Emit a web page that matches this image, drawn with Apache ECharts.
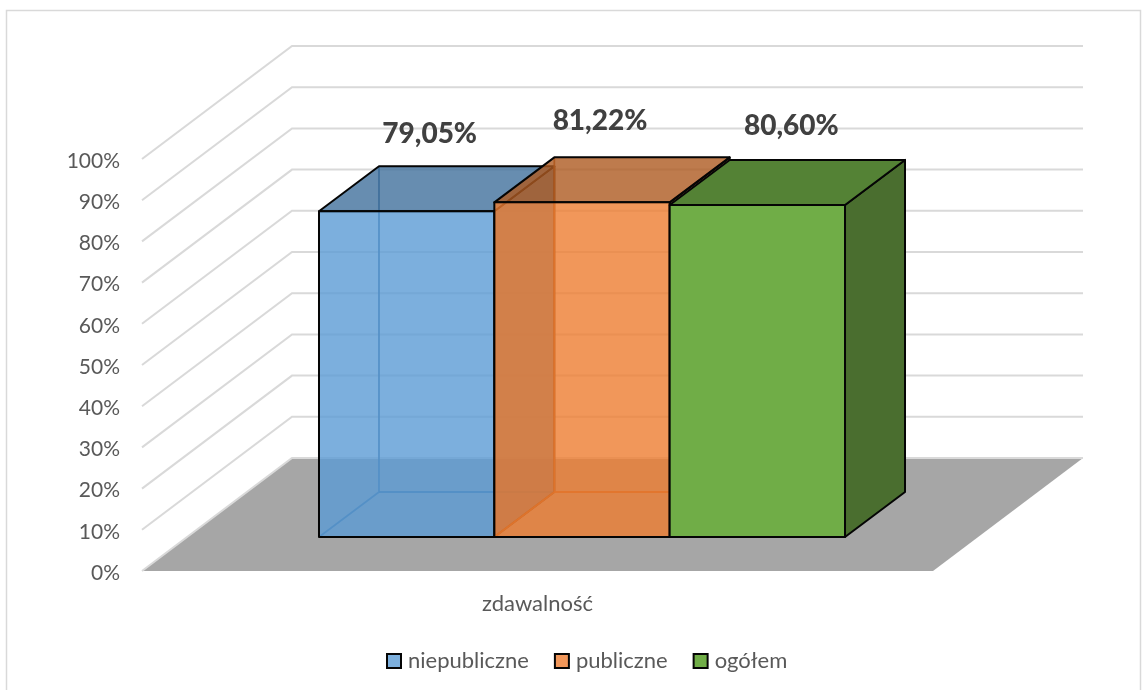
<!DOCTYPE html>
<html><head><meta charset="utf-8">
<style>html,body{margin:0;padding:0;background:#fff}#c{width:1143px;height:690px}</style>
<script src="https://cdn.jsdelivr.net/npm/echarts@6/dist/echarts.min.js"></script>
</head><body><div id="c"></div>
<script>
const categories = ['zdawalność'];
const seriesNames = ['niepubliczne', 'publiczne', 'ogółem'];
const niepubliczne = [79.05];
const publiczne = [81.22];
const ogolem = [80.60];
const axisTicks = [0, 10, 20, 30, 40, 50, 60, 70, 80, 90, 100];

const FONT = 'Lato';
const WALL = [150, -113];         // depth of the whole floor
const BAR_START = [44.5, -34];    // bar front plane relative to the axis plane
const BAR_DEPTH = [60, -45];
const GROUP_SHARE = 0.665;        // bars' share of the category band
const LABEL_SHIFT = [[23, -77], [18, -81.5], [34, -79]];

const looks = [
  {front:'rgba(91,155,213,0.8)', top:'rgba(65,113,156,0.8)', side:'rgba(65,113,156,0.8)', hidden:'rgba(45,95,140,0.9)', edge:'#050505'},
  {front:'rgba(237,125,49,0.8)', top:'rgba(174,90,33,0.8)', side:'rgba(174,90,33,0.8)', hidden:'rgba(180,85,25,0.9)', edge:'#050505'},
  {front:'#70ad47', top:'#548235', side:'#4a6e2f', hidden:null, edge:'#050505'}
];

function poly(points, fill, stroke, width) {
  return {type:'polygon', shape:{points}, style:{fill, stroke:stroke||null, lineWidth:width||0, lineJoin:'round'}};
}
function line(points, stroke, width) {
  return {type:'polyline', shape:{points}, style:{fill:null, stroke, lineWidth:width}};
}

function renderFloor(params, api) {
  const cs = params.coordSys;
  const y = api.coord([0, api.value(1)])[1];
  const l = cs.x, r = cs.x + cs.width;
  return poly([[l,y],[r,y],[r+WALL[0],y+WALL[1]],[l+WALL[0],y+WALL[1]]], '#a6a6a6');
}
function renderGrid(params, api) {
  const cs = params.coordSys;
  const y = api.coord([0, api.value(1)])[1];
  const l = cs.x, r = cs.x + cs.width;
  return line([[l,y],[l+WALL[0],y+WALL[1]],[r+WALL[0],y+WALL[1]]], '#d9d9d9', 2);
}
function barRenderer(idx) {
  return function (params, api) {
    const cs = params.coordSys;
    const band = cs.width;
    const w = band * GROUP_SHARE / 3;
    const center = api.coord([api.value(0), 0])[0];
    const x0 = center - band * GROUP_SHARE / 2 + idx * w + BAR_START[0];
    const x1 = x0 + w;
    const base = api.coord([0, 0])[1] + BAR_START[1];
    const val = api.value(1);
    const top = api.coord([0, val])[1] + BAR_START[1];
    const dx = BAR_DEPTH[0], dy = BAR_DEPTH[1];
    const look = looks[idx];
    const kids = [];
    if (look.hidden) {
      kids.push(line([[x0,base],[x0+dx,base+dy],[x0+dx,top+dy]], look.hidden, 1.8));
      kids.push(line([[x0+dx,base+dy],[x1+dx,base+dy]], look.hidden, 1.8));
    }
    kids.push(poly([[x1,top],[x1+dx,top+dy],[x1+dx,base+dy],[x1,base]], look.side, look.edge, 2));
    kids.push(poly([[x0,top],[x1,top],[x1+dx,top+dy],[x0+dx,top+dy]], look.top, look.edge, 2));
    kids.push(poly([[x0,top],[x1,top],[x1,base],[x0,base]], look.front, look.edge, 2));
    kids.push({type:'text', z2:50, style:{
      text: val.toFixed(2).replace('.', ',') + '%',
      x: (x0+x1)/2 + LABEL_SHIFT[idx][0], y: top + LABEL_SHIFT[idx][1],
      align:'center', verticalAlign:'middle',
      fill:'#404040', font:'900 28px ' + FONT
    }});
    return {type:'group', children:kids};
  };
}

const barData = [niepubliczne, publiczne, ogolem];
const chart = echarts.init(document.getElementById('c'), null, {renderer:'canvas'});
chart.setOption({
  animation:false,
  backgroundColor:'#ffffff',
  textStyle:{fontFamily:FONT},
  graphic:[{type:'rect', silent:true, z:-10, shape:{x:6.5,y:10.5,width:1134,height:2000},
            style:{fill:null, stroke:'#d9d9d9', lineWidth:1.5}}],
  grid:{left:142, width:791, top:159, height:412, containLabel:false},
  legend:{
    left:386, top:650, padding:0, itemWidth:14, itemHeight:14, itemGap:25,
    icon:'rect', data:seriesNames,
    selectedMode:false,
    itemStyle:{borderColor:'#050505', borderWidth:2},
    textStyle:{fontFamily:FONT, fontSize:22, color:'#595959', padding:[0,0,0,2]}
  },
  xAxis:{type:'category', data:categories, axisLine:{show:false}, axisTick:{show:false}, splitLine:{show:false},
    axisLabel:{fontFamily:FONT, fontSize:22, color:'#595959', margin:22}},
  yAxis:{type:'value', min:0, max:100, interval:10, axisLine:{show:false}, axisTick:{show:false}, splitLine:{show:false},
    axisLabel:{margin:22, formatter:'{t|{value}%}',
      rich:{t:{fontFamily:FONT, fontSize:21, color:'#595959', padding:[4,0,0,0]}}}},
  series:[
    {type:'custom', name:'floor', z:1, silent:true, coordinateSystem:'cartesian2d', renderItem:renderFloor, data:[[0,0]], encode:{x:0,y:1}},
    {type:'custom', name:'grid', z:2, silent:true, coordinateSystem:'cartesian2d', renderItem:renderGrid, data:axisTicks.map(t=>[0,t]), encode:{x:0,y:1}},
  ].concat(seriesNames.map((name,i)=>({
    type:'custom', name, z:3+i, coordinateSystem:'cartesian2d', renderItem:barRenderer(i),
    itemStyle:{color:looks[i].front},
    data:barData[i].map((v,k)=>[k,v]), encode:{x:0,y:1}
  })))
});
</script></body></html>
